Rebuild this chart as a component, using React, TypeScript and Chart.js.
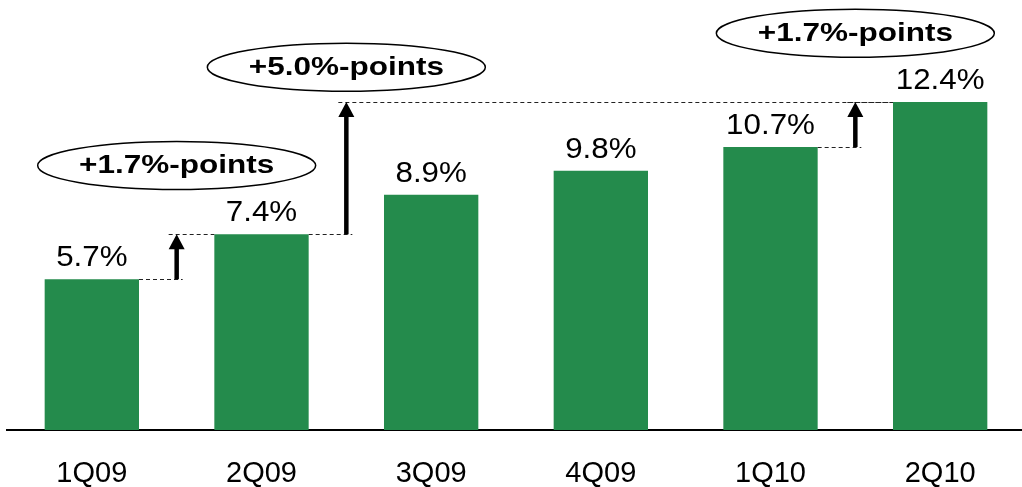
import React, { useEffect, useRef } from 'react';
import { Chart, registerables } from 'chart.js';

Chart.register(...registerables);

const categories = ['1Q09', '2Q09', '3Q09', '4Q09', '1Q10', '2Q10'];
const values = [5.7, 7.4, 8.9, 9.8, 10.7, 12.4];
const valueLabels = ['5.7%', '7.4%', '8.9%', '9.8%', '10.7%', '12.4%'];

// Increase annotations: from bar index -> to bar index
const deltaFrom = [0, 1, 4];
const deltaTo = [1, 5, 5];
const deltaLabels = ['+1.7%-points', '+5.0%-points', '+1.7%-points'];
// vertical level (in % units) where each bubble sits
const deltaLabelLevels = [10.0, 13.72, 15.0];

const GREEN = '#248B4C';
const FONT = '"Liberation Sans", Arial, Helvetica, sans-serif';

function stretchedText(ctx: CanvasRenderingContext2D, text: string, x: number, y: number, sx: number) {
  ctx.save();
  ctx.translate(x, y);
  ctx.scale(sx, 1);
  ctx.fillText(text, 0, 0);
  ctx.restore();
}

const annotationPlugin = {
  id: 'deltaAnnotations',
  afterDatasetsDraw(chart: any) {
    const ctx: CanvasRenderingContext2D = chart.ctx;
    const meta = chart.getDatasetMeta(0);
    const yScale = chart.scales.y;
    ctx.save();

    // value labels
    ctx.fillStyle = '#000';
    ctx.font = `29px ${FONT}`;
    ctx.textAlign = 'center';
    ctx.textBaseline = 'alphabetic';
    meta.data.forEach((bar: any, i: number) => {
      stretchedText(ctx, valueLabels[i], bar.x, bar.y - 13, 1.08);
    });

    deltaFrom.forEach((fi, k) => {
      const ti = deltaTo[k];
      const fb = meta.data[fi];
      const nb = meta.data[fi + 1];
      const tb = meta.data[ti];
      const ax = (fb.x + nb.x) / 2;
      const y0 = yScale.getPixelForValue(values[fi]);
      const y1 = yScale.getPixelForValue(values[ti]);

      // dashed guide lines
      ctx.save();
      ctx.setLineDash([4, 3]);
      ctx.lineWidth = 1;
      ctx.strokeStyle = '#222';
      ctx.beginPath();
      ctx.moveTo(fb.x + fb.width / 2, Math.round(y0) + 0.5);
      ctx.lineTo(ax + 6, Math.round(y0) + 0.5);
      ctx.moveTo(ax - 8, Math.round(y1) + 0.5);
      ctx.lineTo(tb.x - tb.width / 2, Math.round(y1) + 0.5);
      ctx.stroke();
      ctx.restore();

      // arrow
      ctx.save();
      ctx.strokeStyle = '#000';
      ctx.fillStyle = '#000';
      ctx.lineWidth = 4.5;
      ctx.beginPath();
      ctx.moveTo(ax, y0);
      ctx.lineTo(ax, y1 + 12);
      ctx.stroke();
      ctx.beginPath();
      ctx.moveTo(ax, y1);
      ctx.lineTo(ax - 8, y1 + 15);
      ctx.lineTo(ax + 8, y1 + 15);
      ctx.closePath();
      ctx.fill();
      ctx.restore();

      // bubble
      const ey = yScale.getPixelForValue(deltaLabelLevels[k]);
      ctx.save();
      ctx.beginPath();
      ctx.ellipse(ax, ey, 139, 24, 0, 0, Math.PI * 2);
      ctx.fillStyle = '#fff';
      ctx.fill();
      ctx.lineWidth = 1.5;
      ctx.strokeStyle = '#000';
      ctx.stroke();
      ctx.fillStyle = '#000';
      ctx.font = `bold 25px ${FONT}`;
      ctx.textAlign = 'center';
      ctx.textBaseline = 'middle';
      stretchedText(ctx, deltaLabels[k], ax, ey + 1, 1.26);
      ctx.restore();
    });

    ctx.restore();
  },
};

export default function App() {
  const canvasRef = useRef<HTMLCanvasElement | null>(null);

  useEffect(() => {
    document.body.style.margin = '0';
    const canvas = canvasRef.current;
    if (!canvas) return;
    const chart = new Chart(canvas, {
      type: 'bar',
      data: {
        labels: categories,
        datasets: [
          {
            data: values,
            backgroundColor: GREEN,
            borderWidth: 0,
            barPercentage: 0.556,
            categoryPercentage: 1,
          },
        ],
      },
      options: {
        responsive: false,
        animation: false,
        devicePixelRatio: 1,
        layout: { padding: { left: 7, right: 1, top: 0, bottom: 0 } },
        plugins: {
          legend: { display: false },
          tooltip: { enabled: false },
          title: { display: false },
        },
        scales: {
          x: {
            grid: { display: false, drawTicks: false },
            border: { display: true, color: '#000', width: 2 },
            ticks: {
              color: '#000',
              font: { family: FONT, size: 29 },
              padding: 27,
              maxRotation: 0,
            },
            afterFit: (scale: any) => {
              scale.height = 57;
            },
          },
          y: {
            display: false,
            min: 0,
            max: 16.26,
          },
        },
      },
      plugins: [annotationPlugin],
    });
    return () => chart.destroy();
  }, []);

  return (
    <div style={{ width: 1022, height: 487, overflow: 'hidden', background: '#fff' }}>
      <canvas ref={canvasRef} width={1026} height={487} style={{ display: 'block' }} />
    </div>
  );
}
